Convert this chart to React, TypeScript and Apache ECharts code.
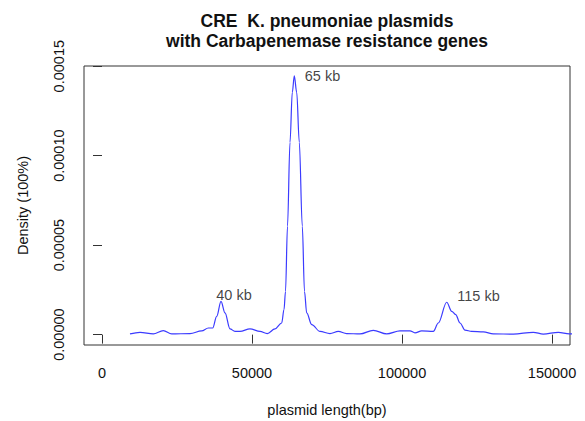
import { useEffect, useRef } from 'react';
import * as echarts from 'echarts';

// Kernel density of plasmid lengths (bp) carrying carbapenemase genes
const lengthBp = [
  9333, 12667, 17100, 20433, 23233, 29333, 33233, 35433, 36900, 38233,
  39667, 41000, 42667, 44333, 46000, 49333, 52667, 55100, 57667, 59900,
  60667, 61167, 61833, 62667, 63433, 64100, 64900, 65767, 66767, 67500,
  68233, 69900, 72667, 76000, 78767, 81567, 86000, 90433, 94900, 99333,
  102667, 104333, 106567, 110433, 112100, 114900, 116567, 117900, 119333, 121000,
  123233, 127100, 130433, 137100, 143767, 147100, 152100, 155767, 158000,
];
const density = [
  0.4e-6, 1.3e-6, 0.4e-6, 2.2e-6, 0.4e-6, 0.6e-6, 2.1e-6, 3.7e-6, 3.7e-6, 10.2e-6,
  18.6e-6, 12.1e-6, 3.2e-6, 1.8e-6, 1.8e-6, 3.2e-6, 1.8e-6, 0.6e-6, 3.2e-6, 6.5e-6,
  14.0e-6, 24.1e-6, 60.6e-6, 107.5e-6, 135.4e-6, 144.6e-6, 135.4e-6, 107.5e-6, 60.6e-6, 24.1e-6,
  12.1e-6, 5.6e-6, 1.8e-6, 0.6e-6, 1.8e-6, 0.6e-6, 0.4e-6, 2.4e-6, 0.4e-6, 2.1e-6,
  2.1e-6, 1.0e-6, 2.1e-6, 1.8e-6, 6.5e-6, 18.1e-6, 13.0e-6, 11.2e-6, 6.5e-6, 2.5e-6,
  1.8e-6, 1.5e-6, 0.4e-6, 0.3e-6, 1.3e-6, 0.3e-6, 1.3e-6, 0.4e-6, 0.4e-6,
];

const xTicks = [0, 50000, 100000, 150000];
const yTicks = [0, 0.00005, 0.0001, 0.00015];

// Peak annotations
const peakLabels = ['40 kb', '65 kb', '115 kb'];
const peakLabelX = [44000, 73500, 125500];
const peakLabelY = [0.0000224, 0.0001446, 0.0000218];

const titleLines = ['CRE  K. pneumoniae plasmids', 'with Carbapenemase resistance genes'];

const FONT = '"Liberation Sans", Arial, Helvetica, sans-serif';
const INK = '#111';
const FRAME = '#333';

export default function App() {
  const ref = useRef<HTMLDivElement>(null);

  useEffect(() => {
    if (!ref.current) return;
    const chart = echarts.init(ref.current, null, { renderer: 'svg' });
    chart.setOption({
      animation: false,
      backgroundColor: '#ffffff',
      textStyle: { fontFamily: FONT },
      graphic: titleLines.map((t, i) => ({
        type: 'text',
        x: 327,
        y: 20.5 + i * 20,
        silent: true,
        style: {
          text: t,
          fontFamily: FONT,
          fontSize: 17.5,
          fontWeight: 'bold',
          fill: INK,
          align: 'center',
          verticalAlign: 'middle',
        },
      })),
      grid: {
        left: 84,
        right: 15,
        top: 66,
        bottom: 76,
        show: true,
        borderColor: FRAME,
        borderWidth: 1,
        backgroundColor: 'transparent',
        containLabel: false,
        outerBoundsMode: 'none',
      },
      xAxis: {
        type: 'value',
        min: -6000,
        max: 156000,
        name: 'plasmid length(bp)',
        nameLocation: 'middle',
        nameGap: 57,
        nameTextStyle: { fontSize: 14.5, color: INK, fontFamily: FONT },
        axisLine: { show: false },
        splitLine: { show: false },
        axisTick: { show: true, length: 9, customValues: xTicks, lineStyle: { color: FRAME, width: 1 } },
        axisLabel: {
          customValues: xTicks,
          margin: 20,
          fontSize: 14.5,
          color: INK,
          fontFamily: FONT,
          formatter: (v: number) => String(v),
        },
      },
      yAxis: {
        type: 'value',
        min: -0.0000058,
        max: 0.0001501,
        name: 'Density (100%)',
        nameLocation: 'middle',
        nameGap: 54,
        nameTextStyle: { fontSize: 14.5, color: INK, fontFamily: FONT },
        axisLine: { show: false },
        splitLine: { show: false },
        axisTick: { show: true, length: 9, customValues: yTicks, lineStyle: { color: FRAME, width: 1 } },
        axisLabel: {
          customValues: yTicks,
          rotate: 90,
          margin: 18,
          fontSize: 14.5,
          color: INK,
          fontFamily: FONT,
          formatter: (v: number) => v.toFixed(5),
        },
      },
      series: [
        {
          type: 'line',
          data: lengthBp.map((x, i) => [x, density[i]]),
          showSymbol: false,
          smooth: 0.35,
          smoothMonotone: 'x',
          clip: true,
          lineStyle: { color: '#3b3bff', width: 1.2 },
          silent: true,
        },
        {
          type: 'scatter',
          data: peakLabelX.map((x, i) => ({ value: [x, peakLabelY[i]], name: peakLabels[i] })),
          symbolSize: 1,
          itemStyle: { color: 'rgba(0,0,0,0)' },
          silent: true,
          label: {
            show: true,
            position: 'inside',
            formatter: '{b}',
            fontSize: 14.5,
            color: INK,
            fontFamily: FONT,
          },
        },
      ],
    });
    return () => chart.dispose();
  }, []);

  return (
    <div
      ref={ref}
      style={{ position: 'fixed', left: 0, top: 0, width: 585, height: 421, background: '#fff' }}
    />
  );
}
